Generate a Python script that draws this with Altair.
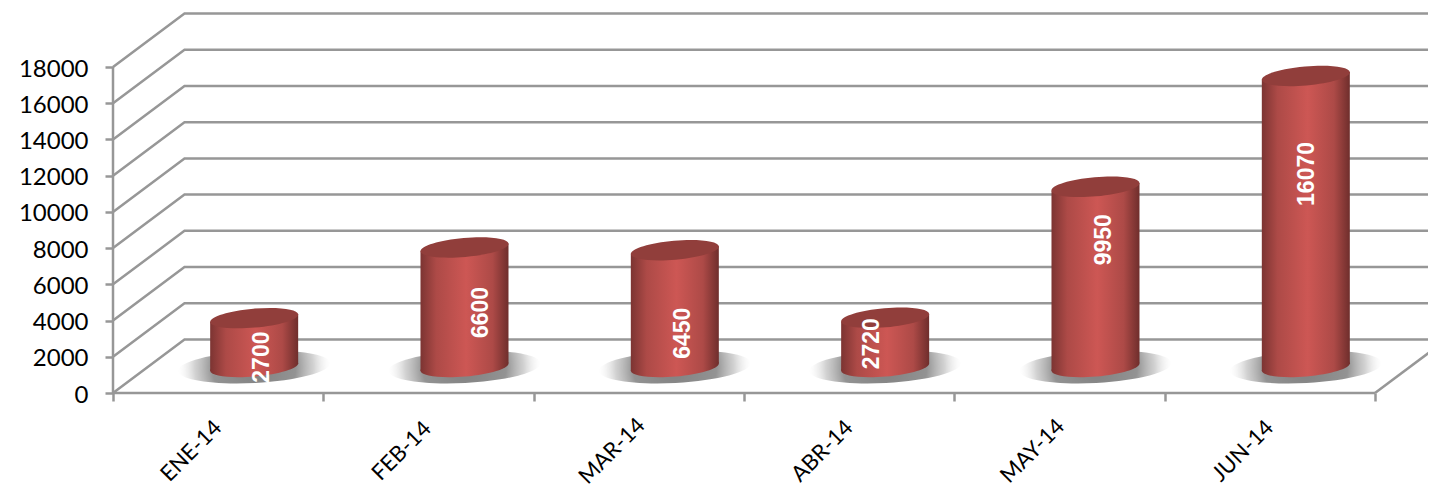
import math
import altair as alt
import pandas as pd

months = ["ENE-14", "FEB-14", "MAR-14", "ABR-14", "MAY-14", "JUN-14"]
values = [2700, 6600, 6450, 2720, 9950, 16070]
grid_values = [0, 2000, 4000, 6000, 8000, 10000, 12000, 14000, 16000, 18000]

# Drawing scale of the pseudo-3D box
PX_X = 210.33          # pixels per category
PX_Y = 326 / 18000     # pixels per value unit
PLOT_W, PLOT_H = 1315, 379
depth_x = 71.5 / PX_X
depth_y = 53.5 / PX_Y
mid_x = 36 / PX_X
mid_y = 26 / PX_Y
x_scale = alt.Scale(domain=[0, PLOT_W / PX_X], nice=False, zero=False)
y_scale = alt.Scale(domain=[0, PLOT_H / PX_Y], nice=False, zero=False)
half_w = 44 / PX_X
tilt = 3.85 / PX_Y
GRID = "#979797"
LINE_W = 2.5


def ellipse_path(ratio, deg):
    k = 0.5523
    t = math.radians(deg)
    def p(x, y):
        y = y * ratio
        return f"{x * math.cos(t) - y * math.sin(t):.4f},{x * math.sin(t) + y * math.cos(t):.4f}"
    return (f"M{p(1, 0)} C{p(1, k)} {p(k, 1)} {p(0, 1)} C{p(-k, 1)} {p(-1, k)} {p(-1, 0)} "
            f"C{p(-1, -k)} {p(-k, -1)} {p(0, -1)} C{p(k, -1)} {p(1, -k)} {p(1, 0)} Z")


cyl_path = ellipse_path(0.215, -5)
shadow_path = ellipse_path(0.21, -3)

body_grad = alt.LinearGradient(
    gradient="linear", x1=0, y1=0, x2=1, y2=0,
    stops=[
        alt.GradientStop(offset=0, color="#7c3432"),
        alt.GradientStop(offset=0.18, color="#ad4a47"),
        alt.GradientStop(offset=0.52, color="#cd5754"),
        alt.GradientStop(offset=0.82, color="#ad4a47"),
        alt.GradientStop(offset=1, color="#6f2e2c"),
    ],
)
shadow_grad = alt.RadialGradient(
    gradient="radial", x1=0.5, y1=0.5, r1=0, x2=0.5, y2=0.5, r2=0.5,
    stops=[
        alt.GradientStop(offset=0, color="#808080"),
        alt.GradientStop(offset=0.55, color="#939393"),
        alt.GradientStop(offset=0.78, color="rgba(190,190,190,0.7)"),
        alt.GradientStop(offset=1, color="rgba(235,235,235,0)"),
    ],
)

x_axis = alt.Axis(
    values=list(range(7)), labels=False, domain=False, grid=False, title=None,
    tickSize=8, tickWidth=LINE_W, tickColor=GRID)
y_axis = alt.Axis(
    values=grid_values, domain=False, grid=False, title=None, format="d",
    tickSize=8, tickWidth=LINE_W, tickColor=GRID, labelPadding=17, labelOffset=2,
    labelFont="Lato", labelFontSize=24, labelColor="#000000")
X = alt.X("x:Q", scale=x_scale, axis=x_axis)
Y = alt.Y("y:Q", scale=y_scale, axis=y_axis)

# box lines
grid_rows = []
for v in grid_values:
    grid_rows += [
        {"g": v, "o": 0, "x": 0, "y": v},
        {"g": v, "o": 1, "x": depth_x, "y": v + depth_y},
        {"g": v, "o": 2, "x": 6 + depth_x, "y": v + depth_y},
    ]
grid = alt.Chart(pd.DataFrame(grid_rows)).mark_line(color=GRID, strokeWidth=LINE_W).encode(
    x=X, y=Y, detail="g:N", order="o:Q")

frame_rows = [
    {"g": "left", "x": 0, "y": 0}, {"g": "left", "x": 0, "y": 18000},
    {"g": "front", "x": 0, "y": 0}, {"g": "front", "x": 6, "y": 0},
    {"g": "right", "x": 6, "y": 0}, {"g": "right", "x": 6 + depth_x, "y": depth_y},
]
frame = alt.Chart(pd.DataFrame(frame_rows)).mark_line(color=GRID, strokeWidth=LINE_W).encode(
    x=X, y=Y, detail="g:N")

# cylinders
centers = [i + 0.5 + mid_x for i in range(len(months))]
base = pd.DataFrame({"x": centers, "y": [mid_y] * 6})
tops = pd.DataFrame({"x": centers, "y": [v + mid_y for v in values]})

shadows = alt.Chart(base).mark_point(
    shape=shadow_path, filled=True, fill=shadow_grad, stroke=None, opacity=1, size=152 ** 2
).encode(x=X, y=Y)

bottoms = alt.Chart(base).mark_point(
    shape=cyl_path, filled=True, fill=body_grad, stroke=None, opacity=1, size=88.4 ** 2
).encode(x=X, y=Y)

body_rows = []
for m, c, v in zip(months, centers, values):
    body_rows += [
        {"m": m, "x": c - half_w, "y": v + mid_y - tilt, "y2": mid_y - tilt},
        {"m": m, "x": c + half_w, "y": v + mid_y + tilt, "y2": mid_y + tilt},
    ]
bodies = alt.Chart(pd.DataFrame(body_rows)).mark_area(fill=body_grad, opacity=1).encode(
    x=X, y=Y, y2="y2:Q", detail="m:N")

lids = alt.Chart(tops).mark_point(
    shape=cyl_path, filled=True, fill="#913e3b", stroke=None, opacity=1, size=88.4 ** 2
).encode(x=X, y=Y)

# value labels: placement nudges in pixels from the lid centre (right, down)
label_nudges = [(8, 39), (17, 65), (8, 83), (-13, 26), (9, 53), (1, 98)]
labels = []
for c, v, (sx, sy) in zip(centers, values, label_nudges):
    labels.append(
        alt.Chart(pd.DataFrame({"x": [c], "y": [v + mid_y], "t": [str(v)]})).mark_text(
            angle=270, align="center", baseline="middle", dx=-sy, dy=sx,
            font="Liberation Sans", fontWeight="bold", fontSize=23, color="#ffffff"
        ).encode(x=X, y=Y, text="t:N")
    )

# month labels
month_df = pd.DataFrame({"x": [i + 0.5 for i in range(6)], "y": [0] * 6, "t": months})
month_text = alt.Chart(month_df).mark_text(
    angle=315, align="center", baseline="middle", dx=-60, dy=22,
    font="Lato", fontSize=22, color="#000000"
).encode(x=X, y=Y, text="t:N")

chart = alt.layer(grid, frame, shadows, bottoms, bodies, lids, *labels, month_text).properties(
    width=PLOT_W, height=PLOT_H,
    autosize=alt.AutoSizeParams(type="none"),
    padding={"left": 105, "top": 6, "right": 0, "bottom": 100},
).configure_view(stroke=None)

chart.save("out.html", embed_options={"renderer": "svg", "actions": False})
